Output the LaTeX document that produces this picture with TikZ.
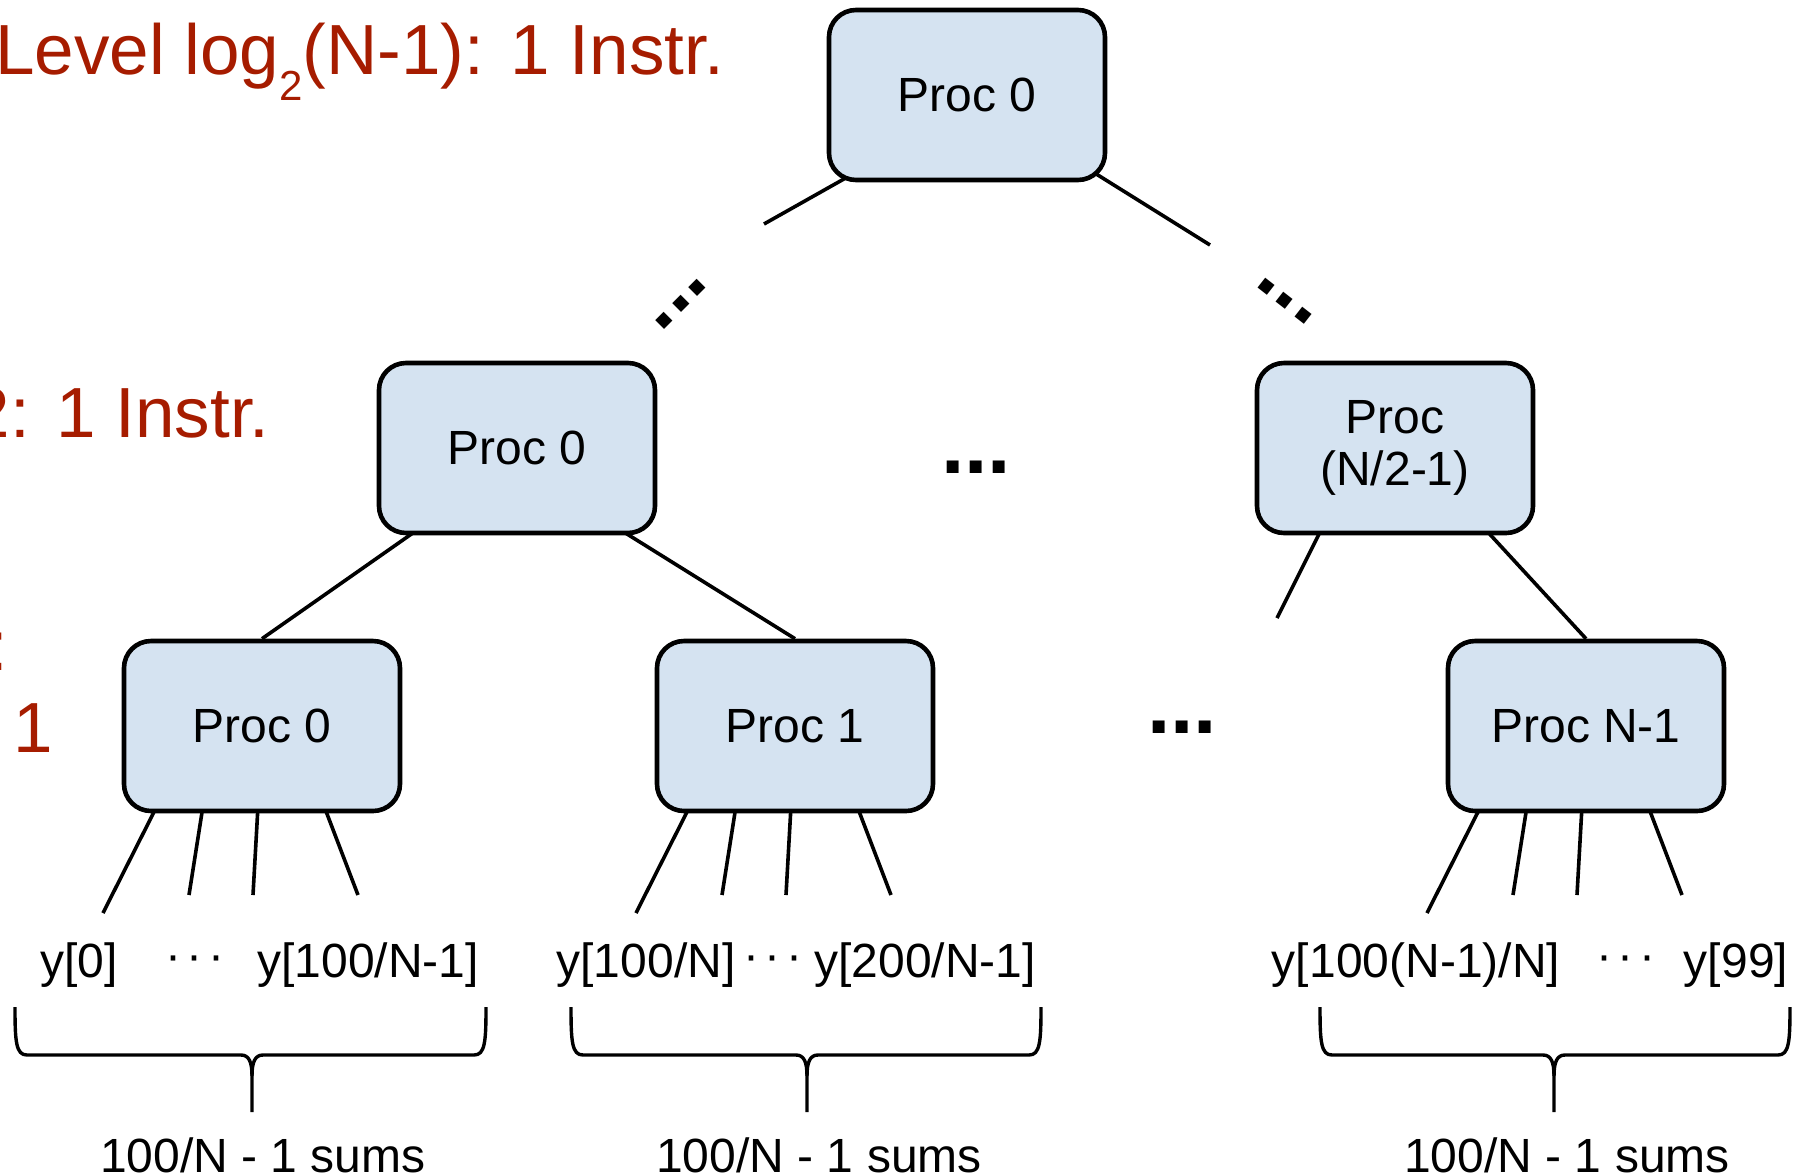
\documentclass[tikz,border=0pt]{standalone}
\usepackage{fontspec}
\setmainfont{Liberation Sans}
\usetikzlibrary{calc,backgrounds}
\definecolor{boxfill}{RGB}{213,227,241}
\definecolor{lvlred}{RGB}{166,28,0}
\newcommand\sumbrace[3]{%
  \draw[brace] (#1,1007) .. controls (#1,1042) and (#1+1,1055) .. (#1+12,1055) -- (#2-11,1055)
     .. controls (#2-3,1055) and (#2,1062) .. (#2,1076) -- (#2,1112);
  \draw[brace] (#2,1076) .. controls (#2,1062) and (#2+3,1055) .. (#2+11,1055) -- (#3-12,1055)
     .. controls (#3-1,1055) and (#3,1042) .. (#3,1007);}
\begin{document}
\begin{tikzpicture}[x=0.5pt,y=-0.5pt,
  proc/.style={draw=black, line width=2.3pt, fill=boxfill, rounded corners=13.5pt,
    minimum width=138pt, minimum height=85pt, inner sep=0pt, align=center,
    font=\fontsize{24}{26}\selectfont},
  conn/.style={line width=1.8pt},
  brace/.style={line width=1.7pt},
  lvl/.style={text=lvlred, inner sep=0pt, font=\fontsize{35.5}{40}\selectfont},
  leaf/.style={inner sep=0pt, anchor=base, font=\fontsize{24}{26}\selectfont},
  ell/.style={inner sep=0pt, anchor=base, font=\fontsize{42}{42}\selectfont\bfseries}
]
\useasboundingbox (0,0) rectangle (1794,1174);

% level labels
\node[lvl, anchor=base west] (lvlA) at (-5,74) {Level log\raisebox{-13pt}{\fontsize{21}{21}\selectfont 2}(N-1): 1 Instr.};
\node[lvl, anchor=base east] (lvlB) at (270,437) {2: 1 Instr.};
\node[lvl, anchor=base east] (lvlC) at (8.5,670) {:};
\node[lvl, anchor=base east] (lvlD) at (53,752) {1};

% processor boxes
\node[proc] (ptop) at (967,95) {Proc 0};
\node[proc] (pm0) at (517,448) {Proc 0};
\node[proc] (pmR) at (1395,448) {Proc\\(N/2-1)};
\node[proc] (pb0) at (262,726) {Proc 0};
\node[proc] (pb1) at (795,726) {Proc 1};
\node[proc] (pbN) at (1586,726) {Proc N-1};

% free ends
\coordinate (eTL) at (764,224);
\coordinate (eTR) at (1210,245);
\coordinate (eR1) at (1277,618);

\begin{scope}[on background layer]
\draw[conn] ($(ptop.center)+(-116,80)$) -- (eTL);
\draw[conn] ($(ptop.center)+(126,77)$) -- (eTR);
\draw[conn] ($(pm0.center)+(-97,80)$) -- (pb0.north);
\draw[conn] ($(pm0.center)+(102,81)$) -- (pb1.north);
\draw[conn] ($(pmR.center)+(-73,80)$) -- (eR1);
\draw[conn] ($(pmR.center)+(90,81)$) -- (pbN.north);
\foreach \b in {pb0,pb1,pbN}{
  \coordinate (\b-l1) at ($(\b.center)+(-159,187)$);
  \coordinate (\b-l2) at ($(\b.center)+(-73,169)$);
  \coordinate (\b-l3) at ($(\b.center)+(-9,169)$);
  \coordinate (\b-l4) at ($(\b.center)+(96,169)$);
  \draw[conn] ($(\b.center)+(-105,80)$) -- (\b-l1);
  \draw[conn] ($(\b.center)+(-59,80)$) -- (\b-l2);
  \draw[conn] ($(\b.center)+(-4,80)$) -- (\b-l3);
  \draw[conn] ($(\b.center)+(62,80)$) -- (\b-l4);
}
\end{scope}

% ellipses
\node[ell, rotate=45] (dl) at (685.5,308.5) {...};
\node[ell, rotate=-38] (dr) at (1281,306) {...};
\node[ell] (dmid) at (976,473) {...};
\node[ell] (dbot) at (1182,733) {...};

% leaf labels
\node[leaf] (y0) at (79,977) {y[0]};
\node[leaf] (c0) at (195,971) {·\hspace{2.8pt}·\hspace{2.8pt}·};
\node[leaf] (y1) at (368,977) {y[100/N-1]};
\node[leaf] (y2) at (646,977) {y[100/N]};
\node[leaf] (c1) at (773,971) {·\hspace{2.8pt}·\hspace{2.8pt}·};
\node[leaf] (y3) at (925,977) {y[200/N-1]};
\node[leaf] (y4) at (1416,977) {y[100(N-1)/N]};
\node[leaf] (c2) at (1626,971) {·\hspace{2.8pt}·\hspace{2.8pt}·};
\node[leaf] (y5) at (1736,977) {y[99]};

% braces
\sumbrace{15}{252}{486}
\sumbrace{571}{807}{1041}
\sumbrace{1320}{1554}{1790}

\node[leaf] (s0) at (263,1172) {100/N - 1 sums};
\node[leaf] (s1) at (819,1172) {100/N - 1 sums};
\node[leaf] (s2) at (1567,1172) {100/N - 1 sums};
\end{tikzpicture}
\end{document}
